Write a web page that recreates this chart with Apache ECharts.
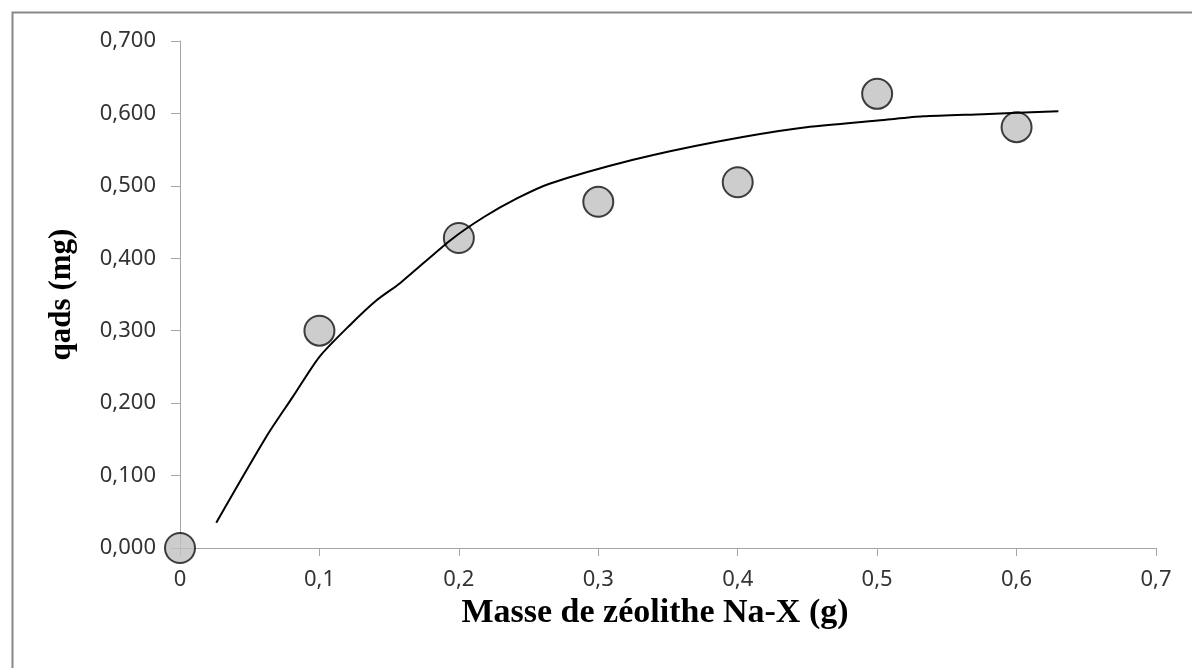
<!DOCTYPE html>
<html>
<head>
<meta charset="utf-8">
<script src="https://cdn.jsdelivr.net/npm/echarts@6/dist/echarts.min.js"></script>
<style>
  html, body { margin: 0; padding: 0; background: #fff; }
  #chart { width: 1192px; height: 668px; }
</style>
</head>
<body>
<div id="chart"></div>
<script>
// measured points
const massX = [0, 0.1, 0.2, 0.3, 0.4, 0.5, 0.6]
const qadsY = [0.000, 0.300, 0.428, 0.478, 0.505, 0.627, 0.581]

// fitted curve
const fitX = [0.026, 0.062, 0.081, 0.100, 0.122, 0.141, 0.158, 0.194, 0.218, 0.242, 0.265, 0.325, 0.385, 0.445, 0.505, 0.533, 0.576, 0.630]
const fitY = [0.035, 0.154, 0.209, 0.264, 0.308, 0.342, 0.366, 0.425, 0.457, 0.483, 0.503, 0.536, 0.561, 0.580, 0.591, 0.596, 0.599, 0.603]

const xTitle = 'Masse de zéolithe Na-X (g)'
const yTitle = 'qads (mg)'

const comma = (v, d) => v.toFixed(d).replace('.', ',')

const chart = echarts.init(document.getElementById('chart'))

chart.setOption({
  animation: false,
  backgroundColor: '#fff',
  graphic: [{
    type: 'rect',
    left: 10, top: 10,
    shape: { width: 1190, height: 670 },
    style: { fill: 'none', stroke: '#878787', lineWidth: 2 },
    silent: true,
  }],
  grid: { left: 180, right: 36, top: 41, bottom: 120 },
  xAxis: {
    type: 'value',
    min: 0, max: 0.7, interval: 0.1,
    name: xTitle,
    nameLocation: 'middle',
    nameGap: 44,
    nameTextStyle: {
      fontFamily: 'Liberation Serif', fontWeight: 'bold', fontSize: 34, color: '#000',
      padding: [0, 26, 0, 0],
    },
    axisLine: { lineStyle: { color: '#a6a6a6', width: 1 } },
    axisTick: { show: true, length: 8, lineStyle: { color: '#a6a6a6' } },
    axisLabel: {
      margin: 21,
      fontFamily: 'Noto Sans', fontSize: 22, color: '#333',
      formatter: v => v === 0 ? '0' : comma(v, 1),
    },
    splitLine: { show: false },
  },
  yAxis: {
    type: 'value',
    min: 0, max: 0.7, interval: 0.1,
    name: yTitle,
    nameLocation: 'middle',
    nameGap: 103,
    nameRotate: 90,
    nameTextStyle: { fontFamily: 'Liberation Serif', fontWeight: 'bold', fontSize: 31, color: '#000' },
    axisLine: { show: true, lineStyle: { color: '#a6a6a6', width: 1 } },
    axisTick: { show: true, length: 9, lineStyle: { color: '#a6a6a6' } },
    axisLabel: {
      margin: 24,
      fontFamily: 'Noto Sans', fontSize: 22, color: '#333',
      formatter: v => comma(v, 3),
    },
    splitLine: { show: false },
  },
  series: [
    {
      name: 'mesures',
      type: 'scatter',
      data: massX.map((x, i) => [x, qadsY[i]]),
      symbol: 'circle',
      symbolSize: 30,
      itemStyle: { color: '#c0c0c0', borderColor: '#111', borderWidth: 2 },
      z: 2,
    },
    {
      name: 'modèle',
      type: 'line',
      data: fitX.map((x, i) => [x, fitY[i]]),
      showSymbol: false,
      smooth: 0.25,
      lineStyle: { color: '#000', width: 2 },
      z: 3,
    },
  ],
})
</script>
</body>
</html>
